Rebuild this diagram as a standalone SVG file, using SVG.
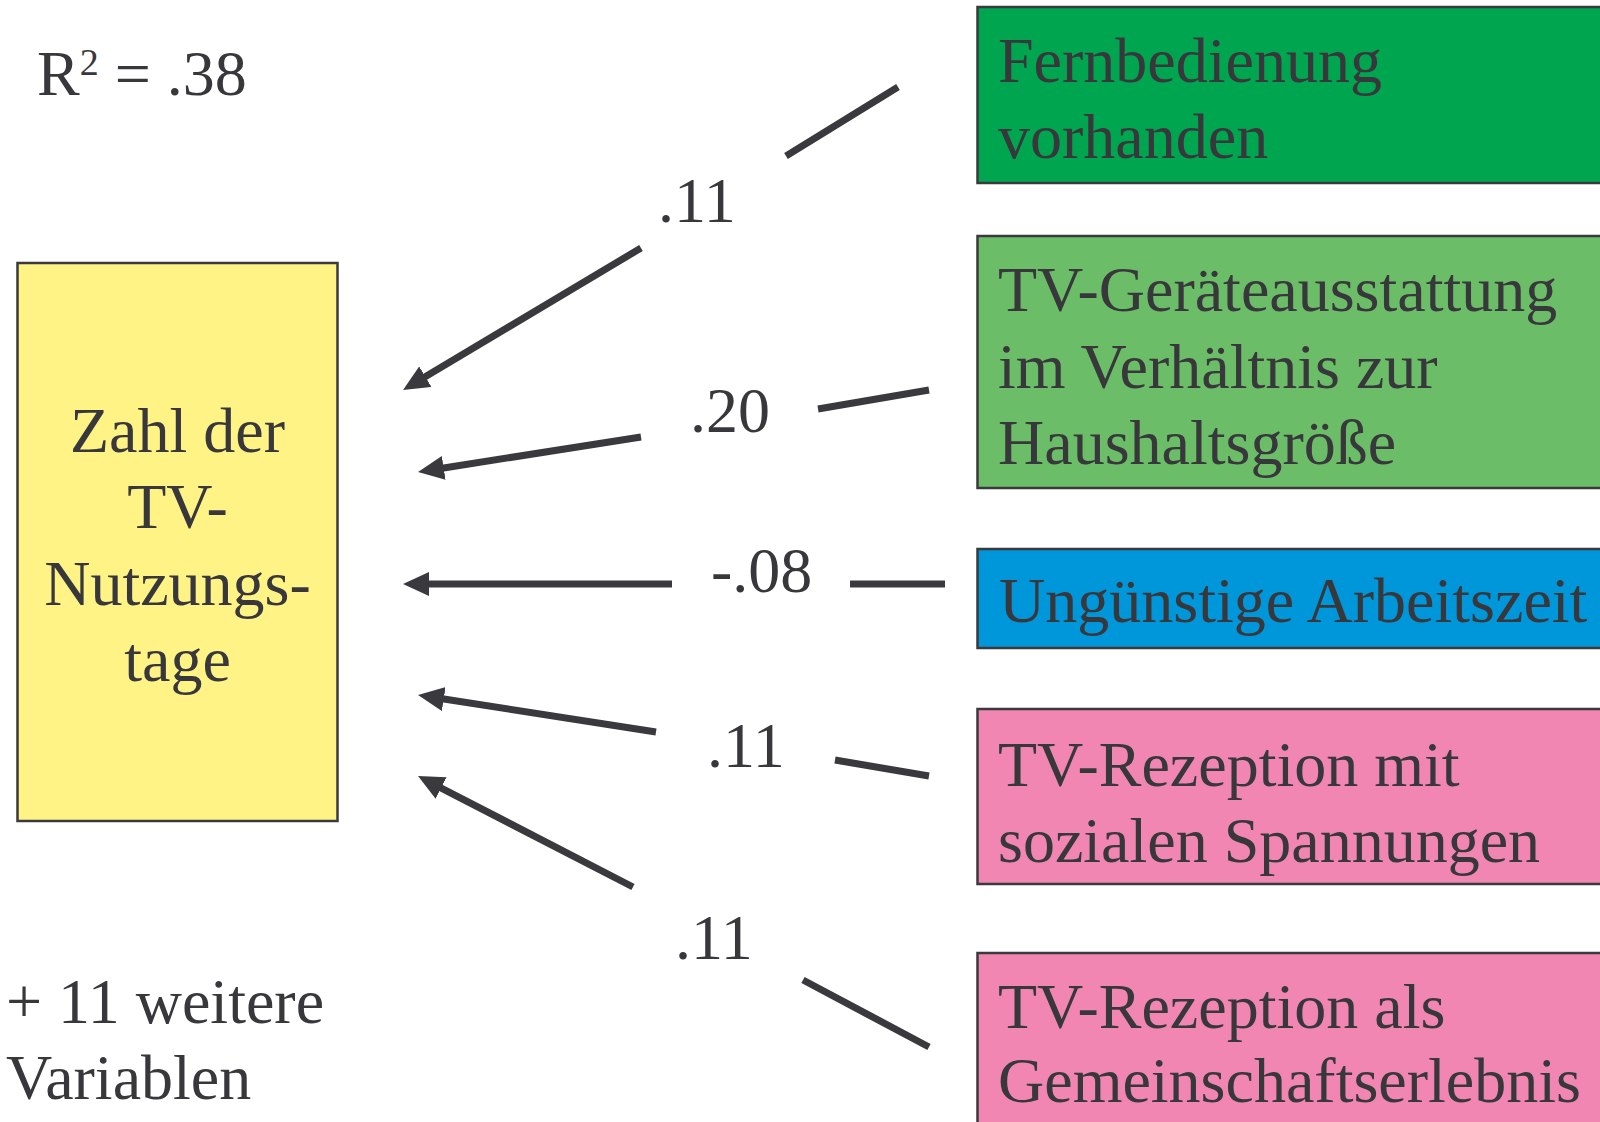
<svg xmlns="http://www.w3.org/2000/svg" width="1600" height="1122" viewBox="0 0 1600 1122">
<style>
  .t { font-family: "Liberation Serif", "Times New Roman", serif; font-size: 64px; fill: #38383c; }
  .c { text-anchor: middle; }
  .box { stroke: #3a3a3e; stroke-width: 2.5; }
  .ln { stroke: #3a3a3e; stroke-width: 7; fill: none; }
  .arr { marker-end: url(#ah); }
</style>
<defs>
  <marker id="ah" markerUnits="userSpaceOnUse" markerWidth="26" markerHeight="24" viewBox="0 0 26 24" refX="8" refY="12" orient="auto">
    <path d="M0,0 L26,12 L0,24 Z" fill="#3a3a3e"/>
  </marker>
</defs>
<rect width="1600" height="1122" fill="#ffffff"/>

<g id="r2">
  <text class="t" x="37" y="95">R<tspan font-size="38" dy="-20">2</tspan><tspan dy="20"> = .38</tspan></text>
</g>

<g id="target">
  <rect class="box" x="17.5" y="263" width="320" height="558" fill="#fff385"/>
  <text class="t c" x="177.5" y="452">Zahl der</text>
  <text class="t c" x="177.5" y="528">TV-</text>
  <text class="t c" x="177.5" y="605">Nutzungs-</text>
  <text class="t c" x="177.5" y="681">tage</text>
</g>

<g id="more">
  <text class="t" x="6" y="1023">+ 11 weitere</text>
  <text class="t" x="6" y="1099">Variablen</text>
</g>

<g id="n1">
  <rect class="box" x="977.5" y="7" width="640" height="176" fill="#00a54f"/>
  <text class="t" x="998" y="82">Fernbedienung</text>
  <text class="t" x="998" y="158">vorhanden</text>
</g>

<g id="n2">
  <rect class="box" x="977.5" y="236" width="640" height="252" fill="#6bbe67"/>
  <text class="t" x="998" y="311">TV-Geräteausstattung</text>
  <text class="t" x="998" y="388">im Verhältnis zur</text>
  <text class="t" x="998" y="464">Haushaltsgröße</text>
</g>

<g id="n3">
  <rect class="box" x="977.5" y="549" width="640" height="99" fill="#0096da"/>
  <text class="t" x="999" y="622">Ungünstige Arbeitszeit</text>
</g>

<g id="n4">
  <rect class="box" x="977.5" y="709" width="640" height="175" fill="#f286b2"/>
  <text class="t" x="998" y="786">TV-Rezeption mit</text>
  <text class="t" x="998" y="862">sozialen Spannungen</text>
</g>

<g id="n5">
  <rect class="box" x="977.5" y="953" width="640" height="200" fill="#f286b2"/>
  <text class="t" x="998" y="1028">TV-Rezeption als</text>
  <text class="t" x="998" y="1102">Gemeinschaftserlebnis</text>
</g>

<g id="connectors">
  <line class="ln" x1="898" y1="87" x2="786" y2="156"/>
  <line class="ln arr" x1="641" y1="248" x2="418.5" y2="380.8"/>

  <line class="ln" x1="929" y1="390" x2="818" y2="409"/>
  <line class="ln arr" x1="641" y1="437" x2="435.8" y2="469.2"/>

  <line class="ln" x1="945" y1="584" x2="850" y2="584"/>
  <line class="ln arr" x1="672" y1="584" x2="421" y2="584"/>

  <line class="ln" x1="929" y1="776" x2="835" y2="760"/>
  <line class="ln arr" x1="656" y1="732" x2="435.8" y2="697.8"/>

  <line class="ln" x1="929" y1="1047" x2="803" y2="980"/>
  <line class="ln arr" x1="633" y1="887" x2="434" y2="784.3"/>
</g>

<g id="labels">
  <text class="t" x="658" y="222">.11</text>
  <text class="t" x="690" y="432">.20</text>
  <text class="t" x="711" y="592">-.08</text>
  <text class="t" x="707" y="767">.11</text>
  <text class="t" x="675" y="959">.11</text>
</g>
</svg>
